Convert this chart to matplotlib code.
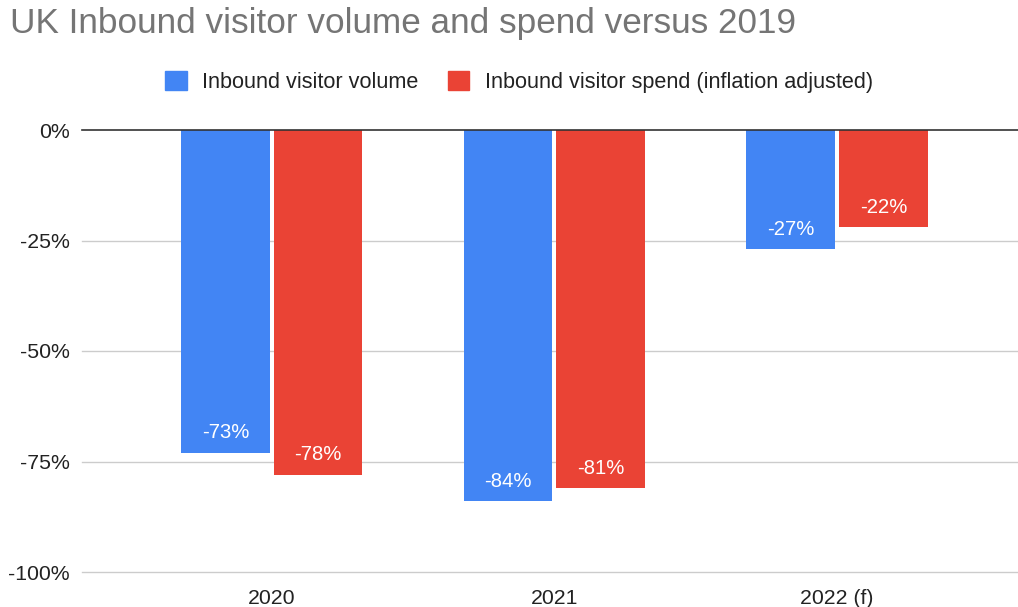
import matplotlib
matplotlib.use("Agg")
import matplotlib.pyplot as plt
import numpy as np
from matplotlib.patches import Rectangle

plt.rcParams['font.family'] = ['Liberation Sans', 'DejaVu Sans']

categories = ["2020", "2021", "2022 (f)"]
volume = [-73, -84, -27]
spend = [-78, -81, -22]
series_names = ["Inbound visitor volume", "Inbound visitor spend (inflation adjusted)"]
yticks = [0, -25, -50, -75, -100]
ytick_labels = ["0%", "-25%", "-50%", "-75%", "-100%"]

blue = "#4285F4"
red = "#EA4335"

W, H = 1018, 607
fig = plt.figure(figsize=(W/100, H/100), dpi=100)
ax = fig.add_axes([82/W, 1-572/H, 1-82/W, (572-130)/H])

x = np.arange(len(categories))
bw = 0.314
off = 0.164
b1 = ax.bar(x - off, volume, bw, color=blue, zorder=3)
b2 = ax.bar(x + off, spend, bw, color=red, zorder=3)

for bars, vals in ((b1, volume), (b2, spend)):
    for rect, v in zip(bars, vals):
        ax.annotate(f"{v}%", xy=(rect.get_x() + rect.get_width()/2, v),
                    xytext=(0, 14.4), textcoords="offset points",
                    ha="center", va="center", color="white", fontsize=14.6, zorder=4)

ax.set_xlim(-0.671, 2.64)
ax.set_ylim(-100, 0)
ax.set_yticks(yticks)
ax.set_yticklabels(ytick_labels)
ax.set_xticks(x)
ax.set_xticklabels(categories)
ax.tick_params(axis='both', length=0, labelsize=15.3, colors="#222222")
ax.tick_params(axis='y', pad=8.6)
ax.tick_params(axis='x', pad=12)
for s in ax.spines.values():
    s.set_visible(False)
for t in yticks[1:]:
    ax.axhline(t, color="#cccccc", lw=1, zorder=1, clip_on=False)
ax.axhline(0, color="#333333", lw=1.2, zorder=5, clip_on=False)

fig.text(10/W, 1-23/H, "UK Inbound visitor volume and spend versus 2019",
         fontsize=25.3, color="#757575", ha="left", va="center")

handles = [Rectangle((0, 0), 1, 1, color=blue), Rectangle((0, 0), 1, 1, color=red)]
fig.legend(handles, series_names, loc="center", bbox_to_anchor=(519/W, 1-82/H),
           ncol=2, frameon=False, fontsize=15.6, handlelength=1.0, handleheight=1.0,
           columnspacing=1.35, handletextpad=0.72, labelcolor="#222222",
           borderpad=0, borderaxespad=0)

fig.savefig("out.png", dpi=100)
